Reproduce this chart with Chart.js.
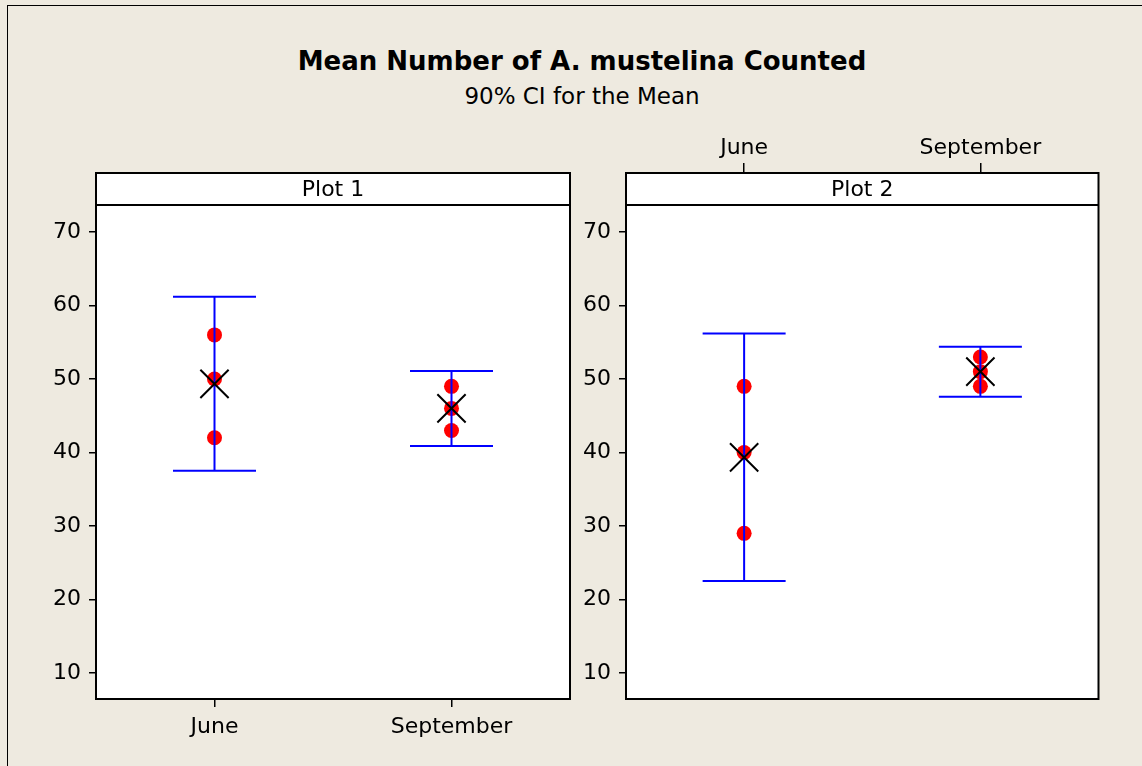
<!DOCTYPE html>
<html>
<head>
<meta charset="utf-8">
<title>Mean Number of A. mustelina Counted</title>
<script src="https://cdn.jsdelivr.net/npm/chart.js@4.4.1/dist/chart.umd.min.js"></script>
<style>
  html, body { margin: 0; padding: 0; background: #EEEAE0; }
  #wrap { position: relative; width: 1142px; height: 766px; overflow: hidden; background: #EEEAE0; }
  #frame { position: absolute; left: 7px; top: 5px; width: 1300px; height: 900px;
           border-left: 1px solid #000; border-top: 1px solid #000; }
  canvas { position: absolute; left: 0; top: 0; }
  .txt { position: absolute; left: 0; width: 1164px; text-align: center; white-space: nowrap;
         font-family: "DejaVu Sans", sans-serif; color: #000; }
  #title { top: 46px; font-size: 26px; line-height: 30px; font-weight: bold; }
  #subtitle { top: 83px; font-size: 23px; line-height: 26px; }
</style>
</head>
<body>
<div id="wrap">
  <div id="frame"></div>
  <div id="title" class="txt">Mean Number of A. mustelina Counted</div>
  <div id="subtitle" class="txt">90% CI for the Mean</div>
  <canvas id="plot1" width="1142" height="766"></canvas>
  <canvas id="plot2" width="1142" height="766"></canvas>
</div>
<script>
// Categories and tick labels
const months = ['June', 'September'];
const panelLabels = ['Plot 1', 'Plot 2'];
const yTicks = [10, 20, 30, 40, 50, 60, 70];

// Individual counts
const plot1June = [56, 50, 42];
const plot1Sept = [49, 46, 43];
const plot2June = [49, 40, 29];
const plot2Sept = [53, 51, 49];

// Means and 90% confidence limits, per month
const plot1Mean = [49.33, 46.0];
const plot1CiLow = [37.5, 40.9];
const plot1CiHigh = [61.2, 51.1];
const plot2Mean = [39.33, 51.0];
const plot2CiLow = [22.5, 47.6];
const plot2CiHigh = [56.2, 54.4];

const FONT = { family: 'DejaVu Sans', size: 22 };
const BLUE = '#0000FF';

// White plotting area, outer panel border and the strip label across the top
const panelFrame = {
  id: 'panelFrame',
  beforeDraw(chart) {
    const { left, top, right, bottom } = chart.chartArea;
    const ctx = chart.ctx;
    ctx.save();
    ctx.fillStyle = '#FFFFFF';
    ctx.fillRect(left, top, right - left, bottom - top);
    ctx.restore();
  },
  afterDraw(chart, args, opts) {
    const { left, top, right, bottom } = chart.chartArea;
    const ctx = chart.ctx;
    const stripH = 32;
    ctx.save();
    ctx.strokeStyle = '#000';
    ctx.lineWidth = 2;
    ctx.strokeRect(left, top, right - left, bottom - top);
    ctx.beginPath();
    ctx.moveTo(left, top + stripH);
    ctx.lineTo(right, top + stripH);
    ctx.stroke();
    ctx.fillStyle = '#000';
    ctx.font = FONT.size + 'px "' + FONT.family + '"';
    ctx.textAlign = 'center';
    ctx.textBaseline = 'middle';
    ctx.fillText(opts.label, (left + right) / 2, top + stripH / 2 + 1);
    ctx.restore();
  }
};

function pointsFor(values, month) {
  return values.map(v => ({ x: month, y: v }));
}

function buildDatasets(juneVals, septVals, means, ciLow, ciHigh) {
  const ciSets = months.map((m, i) => ({
    type: 'line',
    data: [{ x: m, y: ciLow[i] }, { x: m, y: ciHigh[i] }],
    borderColor: BLUE,
    borderWidth: 2,
    pointStyle: 'line',
    pointRadius: 41.5,
    pointBorderColor: BLUE,
    pointBorderWidth: 2,
    fill: false,
    order: 1
  }));
  return [
    {
      type: 'line',
      data: months.map((m, i) => ({ x: m, y: means[i] })),
      showLine: false,
      pointStyle: 'crossRot',
      pointRadius: 20,
      pointBorderColor: '#000',
      pointBorderWidth: 2,
      order: 0
    },
    ...ciSets,
    {
      type: 'line',
      data: pointsFor(juneVals, months[0]).concat(pointsFor(septVals, months[1])),
      showLine: false,
      pointStyle: 'circle',
      pointRadius: 7.5,
      pointBackgroundColor: '#FF0000',
      pointBorderWidth: 0,
      order: 2
    }
  ];
}

function makeChart(id, label, xPos, padding, datasets) {
  return new Chart(document.getElementById(id), {
    type: 'line',
    data: { labels: months, datasets },
    plugins: [panelFrame],
    options: {
      responsive: false,
      devicePixelRatio: 1,
      animation: false,
      layout: { padding },
      plugins: {
        legend: { display: false },
        tooltip: { enabled: false },
        panelFrame: { label }
      },
      scales: {
        x: {
          type: 'category',
          labels: months,
          position: xPos,
          offset: true,
          border: { display: false },
          grid: { drawOnChartArea: false, drawTicks: true, tickLength: xPos === 'top' ? 10 : 8, color: '#000', lineWidth: 1.5 },
          ticks: { color: '#000', font: FONT, padding: xPos === 'top' ? 2 : 7, maxRotation: 0, autoSkip: false },
          afterFit: s => { s.height = 50; s.paddingLeft = 0; s.paddingRight = 0; }
        },
        y: {
          type: 'linear',
          min: 6.46,
          max: 78.03,
          border: { display: false },
          grid: { drawOnChartArea: false, drawTicks: true, tickLength: 7, color: '#000', lineWidth: 1.5 },
          ticks: { color: '#000', font: FONT, padding: 8 },
          afterBuildTicks: s => { s.ticks = yTicks.map(v => ({ value: v })); },
          afterFit: s => { s.width = 60; s.paddingTop = 0; s.paddingBottom = 0; }
        }
      }
    }
  });
}

makeChart('plot1', panelLabels[0], 'bottom',
  { left: 36, right: 572, top: 173, bottom: 17 },
  buildDatasets(plot1June, plot1Sept, plot1Mean, plot1CiLow, plot1CiHigh));

makeChart('plot2', panelLabels[1], 'top',
  { left: 566, right: 39, top: 123, bottom: 67 },
  buildDatasets(plot2June, plot2Sept, plot2Mean, plot2CiLow, plot2CiHigh));
</script>
</body>
</html>
